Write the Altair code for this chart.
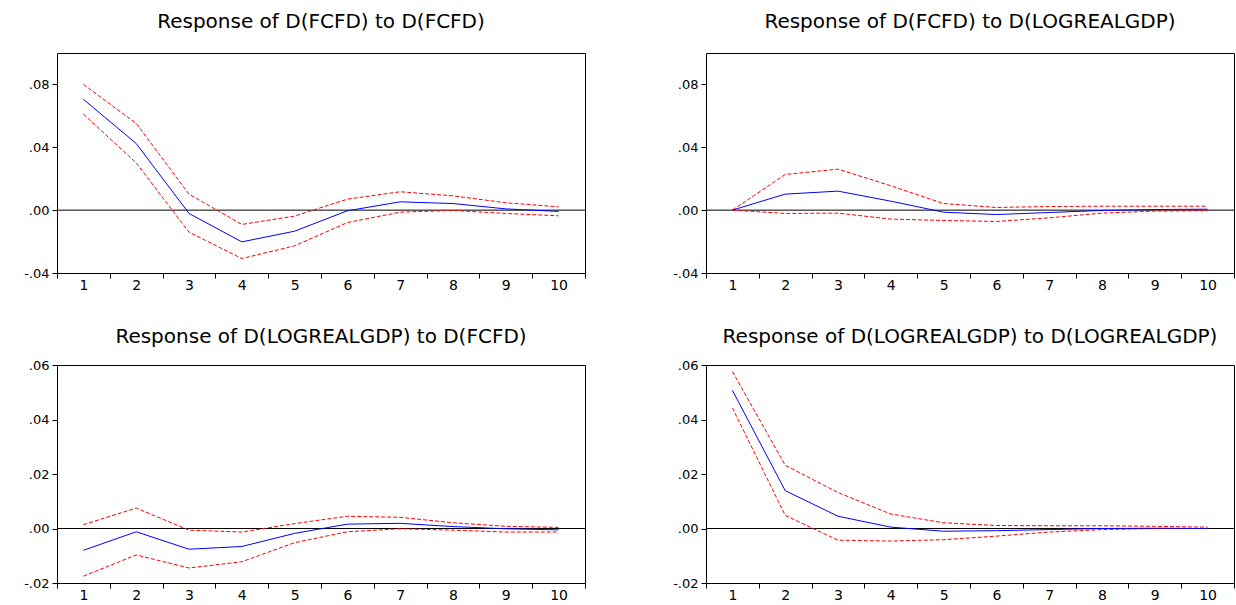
import altair as alt
import pandas as pd

steps = list(range(1, 11))

fcfd_fcfd_resp = [0.0705, 0.0424, -0.0021, -0.0202, -0.0134, -0.0004, 0.0053, 0.0042, 0.0008, -0.0008]
fcfd_fcfd_upper = [0.0800, 0.0552, 0.0102, -0.0091, -0.0038, 0.0070, 0.0117, 0.0091, 0.0047, 0.0021]
fcfd_fcfd_lower = [0.0611, 0.0301, -0.0140, -0.0308, -0.0227, -0.0079, -0.0013, -0.0002, -0.0021, -0.0036]

fcfd_gdp_resp = [0.0, 0.0102, 0.0121, 0.0057, -0.0013, -0.0028, -0.0015, -0.0002, 0.0004, 0.0006]
fcfd_gdp_upper = [0.0, 0.0227, 0.0261, 0.0155, 0.0042, 0.0017, 0.0023, 0.0025, 0.0025, 0.0025]
fcfd_gdp_lower = [0.0, -0.0021, -0.0019, -0.0057, -0.0066, -0.0072, -0.0049, -0.0019, -0.0006, -0.0004]

gdp_fcfd_resp = [-0.0080, -0.0012, -0.0076, -0.0066, -0.0018, 0.0016, 0.0019, 0.0007, -0.0001, -0.0005]
gdp_fcfd_upper = [0.0014, 0.0075, -0.0006, -0.0013, 0.0018, 0.0045, 0.0041, 0.0021, 0.0008, 0.0004]
gdp_fcfd_lower = [-0.0175, -0.0097, -0.0145, -0.0122, -0.0052, -0.0012, -0.0001, -0.0006, -0.0013, -0.0013]

gdp_gdp_resp = [0.0507, 0.0139, 0.0045, 0.0005, -0.0010, -0.0008, -0.0004, 0.0000, 0.0001, 0.0000]
gdp_gdp_upper = [0.0576, 0.0232, 0.0132, 0.0053, 0.0021, 0.0011, 0.0010, 0.0010, 0.0008, 0.0005]
gdp_gdp_lower = [0.0443, 0.0048, -0.0043, -0.0046, -0.0041, -0.0028, -0.0013, -0.0004, 0.0000, 0.0000]

titles = [
    "Response of D(FCFD) to D(FCFD)",
    "Response of D(FCFD) to D(LOGREALGDP)",
    "Response of D(LOGREALGDP) to D(FCFD)",
    "Response of D(LOGREALGDP) to D(LOGREALGDP)",
]
top_ticks = [-0.04, 0.0, 0.04, 0.08]
bottom_ticks = [-0.02, 0.0, 0.02, 0.04, 0.06]
band_edges = [i + 0.5 for i in range(11)]

FONT = "DejaVu Sans"
PANEL_W = 528

ylabel = ("datum.value < 0 ? '-' + replace(format(-datum.value, '.2f'), '0.', '.') "
          ": replace(format(datum.value, '.2f'), '0.', '.')")

xscale = alt.Scale(domain=[0.5, 10.5], nice=False, zero=False)


def panel(title, resp, upper, lower, ydom, yvals, h, title_offset):
    df = pd.DataFrame({
        "step": steps * 3,
        "value": resp + upper + lower,
        "band": ["Response"] * 10 + ["Upper"] * 10 + ["Lower"] * 10,
    })
    x_ticks = alt.X(
        "step:Q", scale=xscale,
        axis=alt.Axis(
            orient="bottom", values=band_edges, labels=False, tickSize=5,
            tickColor="black", domain=False, grid=False, title=None,
        ),
    )
    x_labels = alt.X(
        "step:Q", scale=xscale,
        axis=alt.Axis(
            orient="bottom", values=steps, ticks=False, tickSize=0,
            labelPadding=5, labelFontSize=14, labelColor="black",
            labelFlush=False, labelOverlap=False, domain=False, grid=False,
            title=None,
        ),
    )
    y = alt.Y(
        "value:Q",
        scale=alt.Scale(domain=ydom, nice=False, zero=False),
        axis=alt.Axis(
            values=yvals, labelExpr=ylabel, labelFlush=False, labelOverlap=False,
            labelFontSize=13, labelColor="black", labelPadding=3, tickSize=5,
            tickColor="black", domain=False, grid=False, title=None,
        ),
    )
    base = alt.Chart(df)
    zero = alt.Chart(pd.DataFrame({"zero": [0.0]})).mark_rule(
        color="black", strokeWidth=1
    ).encode(y="zero:Q")
    bands = base.transform_filter("datum.band != 'Response'").mark_line(
        color="#ff0000", strokeWidth=1, strokeDash=[4, 2]
    ).encode(x=x_ticks, y=y, detail="band:N")
    line = base.transform_filter("datum.band == 'Response'").mark_line(
        color="#0000ff", strokeWidth=1
    ).encode(x=x_labels, y=y)
    return alt.layer(zero, bands, line).resolve_axis(x="independent").properties(
        width=PANEL_W,
        height=h,
        title=alt.TitleParams(
            title, fontSize=20, font=FONT, fontWeight="normal", color="black",
            anchor="middle", baseline="alphabetic", offset=title_offset,
            frame="group",
        ),
    )


p1 = panel(titles[0], fcfd_fcfd_resp, fcfd_fcfd_upper, fcfd_fcfd_lower, [-0.04, 0.10], top_ticks, 220, 5)
p2 = panel(titles[1], fcfd_gdp_resp, fcfd_gdp_upper, fcfd_gdp_lower, [-0.04, 0.10], top_ticks, 220, 5)
p3 = panel(titles[2], gdp_fcfd_resp, gdp_fcfd_upper, gdp_fcfd_lower, [-0.02, 0.06], bottom_ticks, 218, -4)
p4 = panel(titles[3], gdp_gdp_resp, gdp_gdp_upper, gdp_gdp_lower, [-0.02, 0.06], bottom_ticks, 218, -4)

chart = alt.concat(
    p1, p2, p3, p4, columns=2, spacing={"row": 92, "column": 121}, bounds="flush"
).properties(
    padding={"left": 23, "top": 11, "right": 0, "bottom": 0},
    background="white",
).configure(font=FONT).configure_view(stroke="black", strokeWidth=1)

chart.save("out.html", embed_options={"renderer": "svg", "actions": False})
